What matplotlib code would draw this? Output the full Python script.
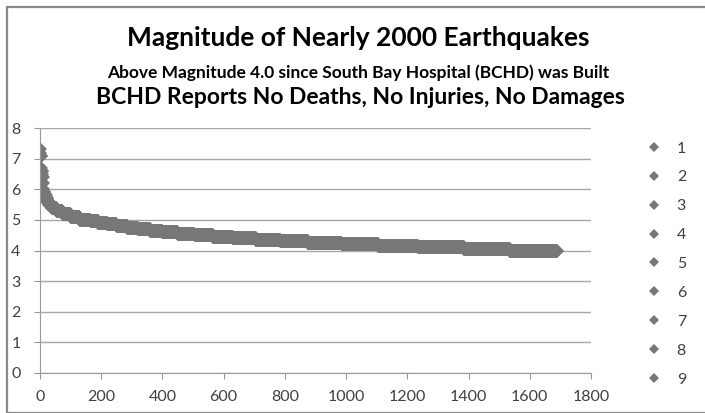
import numpy as np
import matplotlib
matplotlib.use("Agg")
import matplotlib.pyplot as plt
from matplotlib.lines import Line2D
from matplotlib.patches import Rectangle

# magnitude levels (descending) and how many quakes sit at each level
magnitudes = [7.3, 7.2, 7.1, 6.7, 6.6, 6.5, 6.4, 6.2, 6.0,
              5.9, 5.8, 5.7, 5.6, 5.5, 5.4, 5.3, 5.2, 5.1, 5.0,
              4.95, 4.90, 4.85, 4.80, 4.75, 4.70, 4.65, 4.60, 4.55, 4.50,
              4.45, 4.40, 4.35, 4.30, 4.25, 4.20, 4.15, 4.10, 4.05, 4.00]
counts = [1, 1, 2, 1, 2, 1, 2, 1, 1,
          3, 4, 5, 7, 8, 15, 20, 26, 30, 35,
          25, 30, 30, 35, 35, 40, 40, 50, 55, 60,
          65, 75, 80, 90, 110, 120, 130, 150, 150, 155]
legend_labels = ["1", "2", "3", "4", "5", "6", "7", "8", "9"]
x_ticks = [0, 200, 400, 600, 800, 1000, 1200, 1400, 1600, 1800]
y_ticks = [0, 1, 2, 3, 4, 5, 6, 7, 8]

title1 = "Magnitude of Nearly 2000 Earthquakes"
title2 = "Above Magnitude 4.0 since South Bay Hospital (BCHD) was Built"
title3 = "BCHD Reports No Deaths, No Injuries, No Damages"

plt.rcParams['font.family'] = ['Lato', 'DejaVu Sans']

mag = np.repeat(magnitudes, counts)
idx = np.arange(len(mag))

W, H = 705, 413
fig = plt.figure(figsize=(W / 100, H / 100), dpi=100)
ax = fig.add_axes([40 / W, 1 - 373 / H, 551 / W, 245 / H])

gray = "#777777"
ax.plot(idx, mag, linestyle="none", marker="D", markersize=6.8,
        color=gray, markeredgewidth=0)

ax.set_xlim(0, 1800)
ax.set_ylim(0, 8)
ax.set_xticks(x_ticks)
ax.set_yticks(y_ticks)
ax.grid(axis="y", color="#a6a6a6", linewidth=1)
ax.set_axisbelow(True)
for s in ["top", "right"]:
    ax.spines[s].set_visible(False)
for s in ["left", "bottom"]:
    ax.spines[s].set_color("#999999")
ax.tick_params(axis="both", colors="#999999", labelcolor="#404040",
               labelsize=11.5, length=4)
ax.tick_params(axis="y", pad=10)
ax.tick_params(axis="x", pad=8)

fig.text(358 / W, 1 - 38 / H, title1, ha="center", va="center",
         fontsize=19, fontweight="bold")
fig.text(358 / W, 1 - 73 / H, title2, ha="center", va="center",
         fontsize=12.5, fontweight="bold")
fig.text(360 / W, 1 - 98 / H, title3, ha="center", va="center",
         fontsize=16.5, fontweight="bold")

handles = [Line2D([], [], linestyle="none", marker="D", markersize=5,
                  color=gray, markeredgewidth=0) for _ in legend_labels]
fig.legend(handles, legend_labels, loc="upper left",
           bbox_to_anchor=(632 / W, 1 - 127 / H), frameon=False,
           fontsize=11.5, labelspacing=0.92, handlelength=1.0,
           handletextpad=0.9, labelcolor="#404040")

fig.patches.append(Rectangle((7 / W, 0.5 / H), 1.0, 1 - 7.5 / H,
                             transform=fig.transFigure, fill=False,
                             edgecolor="#888888", linewidth=1.6))

fig.savefig("out.png", dpi=100)
